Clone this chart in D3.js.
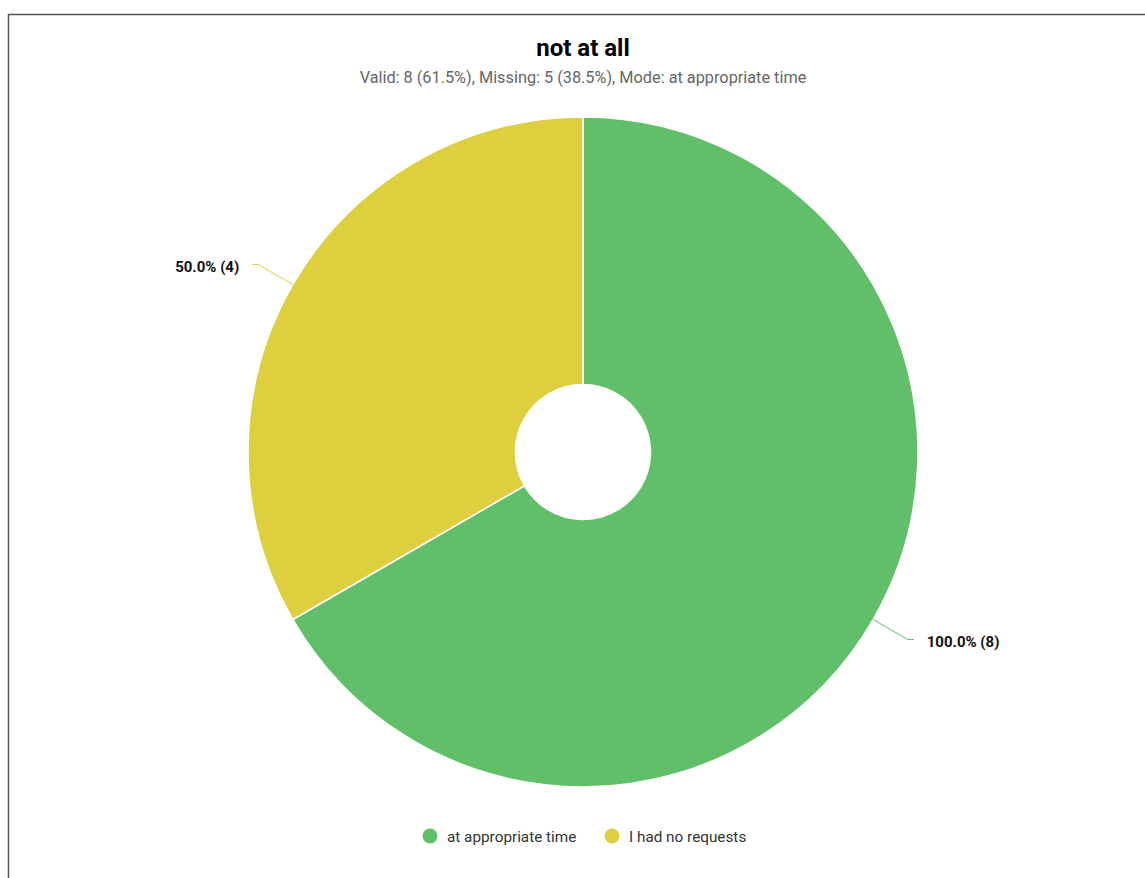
<!DOCTYPE html>
<html>
<head>
<meta charset="utf-8">
<script src="https://cdn.jsdelivr.net/npm/d3@7"></script>
<style>
  body { margin: 0; background: #fff; }
  svg { display: block; font-family: Roboto, "Noto Sans", sans-serif; }
</style>
</head>
<body>
<svg id="vis" width="1145" height="878"></svg>
<script>
// Datos del gráfico
const categories = ["at appropriate time", "I had no requests"];
const counts = [8, 4];
const percentLabels = ["100.0% (8)", "50.0% (4)"];
const colors = ["#61bf6a", "#ddcf3e"];

const title = "not at all";
const subtitle = "Valid: 8 (61.5%), Missing: 5 (38.5%), Mode: at appropriate time";

const SVG = d3.select("#vis");
const cx = 583, cy = 452;
const outerR = 335, innerR = 67.5;

// Marco
SVG.append("rect")
  .attr("x", 8.5).attr("y", 14.5)
  .attr("width", 1200).attr("height", 900)
  .attr("fill", "none")
  .attr("stroke", "#555")
  .attr("stroke-width", 1.5);

// Títulos
SVG.append("text")
  .attr("x", cx).attr("y", 56)
  .attr("text-anchor", "middle")
  .attr("font-size", 24).attr("font-weight", "bold")
  .attr("fill", "#000")
  .text(title);

SVG.append("text")
  .attr("x", cx).attr("y", 83)
  .attr("text-anchor", "middle")
  .attr("font-size", 16.3)
  .attr("fill", "#666")
  .text(subtitle);

const color = d3.scaleOrdinal().domain(categories).range(colors);

const pie = d3.pie().sort(null).value(d => d.value);
const data = categories.map((c, i) => ({ name: c, value: counts[i], label: percentLabels[i] }));
const arcs = pie(data);

const arc = d3.arc().innerRadius(innerR).outerRadius(outerR);
const g = SVG.append("g").attr("transform", `translate(${cx},${cy})`);

g.selectAll("path.slice")
  .data(arcs)
  .join("path")
  .attr("class", "slice")
  .attr("d", arc)
  .attr("fill", d => color(d.data.name))
  .attr("stroke", "#fff")
  .attr("stroke-width", 1.5);

// Líneas de etiqueta
const outerArc = d3.arc().innerRadius(outerR).outerRadius(outerR);
const lineArc = d3.arc().innerRadius(outerR + 40).outerRadius(outerR + 40);

arcs.forEach(d => {
  const mid = (d.startAngle + d.endAngle) / 2;
  const p0 = outerArc.centroid(d);
  const p1 = lineArc.centroid(d);
  const right = Math.sin(mid) > 0;
  const p2 = [p1[0] + (right ? 6 : -6), p1[1]];
  g.append("polyline")
    .attr("points", [p0, p1, p2].map(p => p.join(",")).join(" "))
    .attr("fill", "none")
    .attr("stroke", color(d.data.name))
    .attr("stroke-width", 1);
  g.append("text")
    .attr("x", p2[0] + (right ? 13 : -13))
    .attr("y", p2[1] + 7)
    .attr("text-anchor", right ? "start" : "end")
    .attr("font-size", 15).attr("font-weight", "bold")
    .attr("fill", "#111")
    .text(d.data.label);
});

// Leyenda
const legendX = [430, 612];
const legend = SVG.selectAll("g.legend")
  .data(data)
  .join("g")
  .attr("class", "legend")
  .attr("transform", (d, i) => `translate(${legendX[i]},836)`);

legend.append("circle")
  .attr("r", 7.5)
  .attr("fill", d => color(d.name));

legend.append("text")
  .attr("x", 17).attr("y", 5.5)
  .attr("font-size", 15.3)
  .attr("fill", "#333")
  .text(d => d.name);
</script>
</body>
</html>
